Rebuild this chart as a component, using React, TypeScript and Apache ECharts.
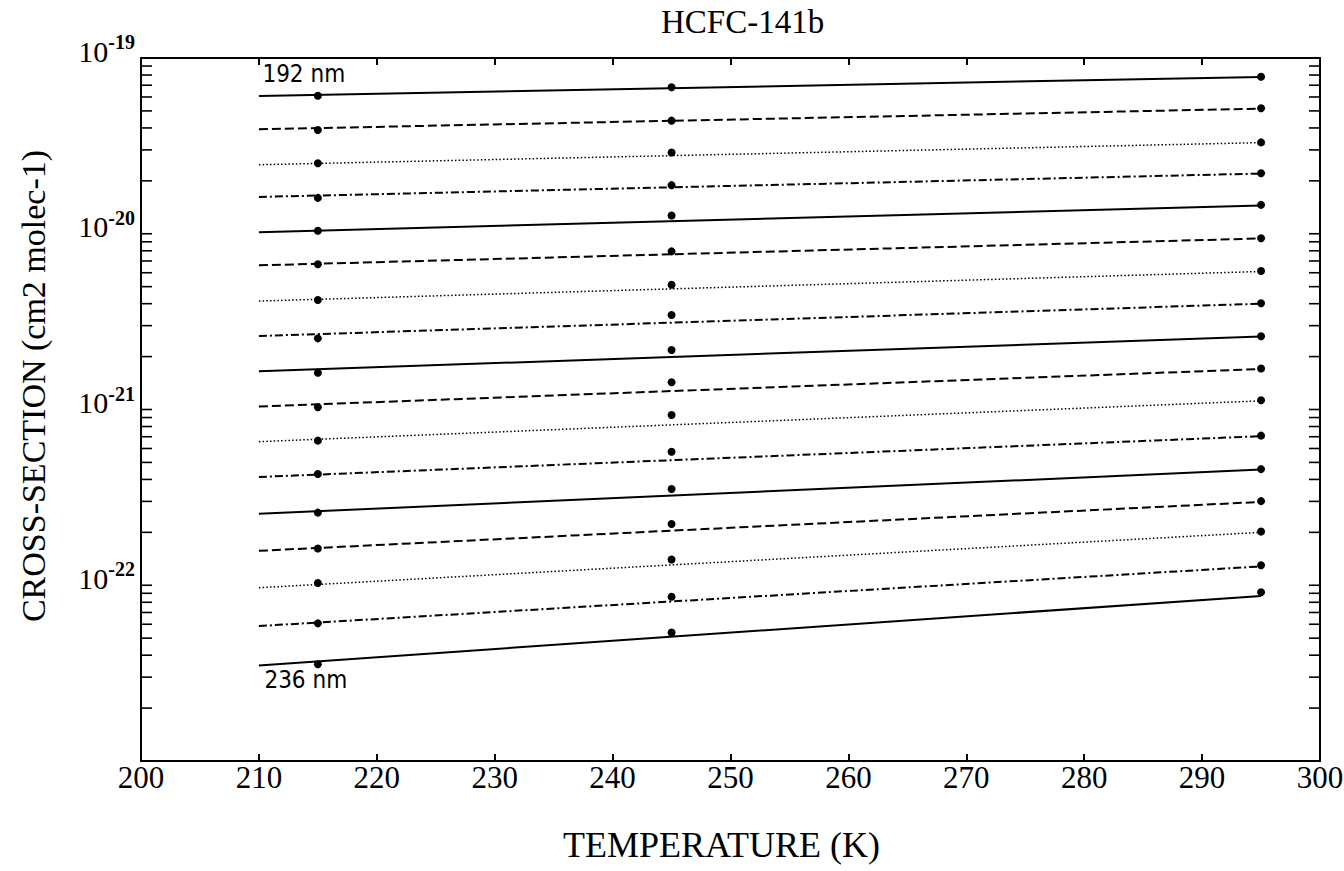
import React, { useEffect, useRef } from "react";
import * as echarts from "echarts";

// Temperatures (K)
const measuredTemps = [215, 245, 295];
const fitTemps = [210, 295];

// Labels shown at the ends of the family of lines (top: 192 nm, bottom: 236 nm)
const lineLabels = ["192 nm", "", "", "", "", "", "", "", "", "", "", "", "", "", "", "", "236 nm"];

// Measured cross-sections (cm2 molec-1) at 215 K, 245 K and 295 K
const at215 = [6.10e-20, 3.89e-20, 2.52e-20, 1.60e-20, 1.04e-20, 6.71e-21, 4.20e-21, 2.54e-21, 1.62e-21, 1.03e-21, 6.65e-22, 4.30e-22, 2.59e-22, 1.62e-22, 1.03e-22, 6.07e-23, 3.55e-23];
const at245 = [6.81e-20, 4.40e-20, 2.90e-20, 1.89e-20, 1.27e-20, 7.94e-21, 5.13e-21, 3.45e-21, 2.18e-21, 1.43e-21, 9.31e-22, 5.75e-22, 3.53e-22, 2.23e-22, 1.40e-22, 8.61e-23, 5.39e-23];
const at295 = [7.83e-20, 5.18e-20, 3.31e-20, 2.21e-20, 1.46e-20, 9.42e-21, 6.14e-21, 4.02e-21, 2.61e-21, 1.71e-21, 1.13e-21, 7.10e-22, 4.58e-22, 3.01e-22, 2.02e-22, 1.30e-22, 9.12e-23];

// Fitted line end values at 210 K and 295 K
const fitAt210 = [6.08e-20, 3.93e-20, 2.47e-20, 1.62e-20, 1.02e-20, 6.61e-21, 4.14e-21, 2.62e-21, 1.65e-21, 1.04e-21, 6.56e-22, 4.13e-22, 2.55e-22, 1.57e-22, 9.68e-23, 5.86e-23, 3.50e-23];
const fitAt295 = [7.80e-20, 5.15e-20, 3.30e-20, 2.20e-20, 1.45e-20, 9.40e-21, 6.10e-21, 4.00e-21, 2.60e-21, 1.70e-21, 1.12e-21, 7.05e-22, 4.55e-22, 2.98e-22, 2.00e-22, 1.28e-22, 8.70e-23];

// Axis tick values
const xTickValues = [200, 210, 220, 230, 240, 250, 260, 270, 280, 290, 300];
const yDecades = [-23, -22, -21, -20, -19];

const serif = "'Liberation Serif', 'Times New Roman', serif";
const sans = "'DejaVu Sans Condensed', 'DejaVu Sans', sans-serif";

const dashStyles: any[] = ["solid", [9, 4], [1.5, 2.2], [8, 3, 2, 3]];

function buildYTicks(): number[] {
  const ticks: number[] = [];
  for (let d = 0; d < yDecades.length - 1; d++) {
    for (let m = 1; m < 10; m++) ticks.push(m * Math.pow(10, yDecades[d]));
  }
  ticks.push(Math.pow(10, yDecades[yDecades.length - 1]));
  return ticks;
}

export default function App() {
  const ref = useRef<HTMLDivElement>(null);

  useEffect(() => {
    if (!ref.current) return;
    const chart = echarts.init(ref.current, undefined, { renderer: "svg" });

    const xMin = xTickValues[0];
    const xMax = xTickValues[xTickValues.length - 1];
    const yMin = Math.pow(10, yDecades[0]);
    const yMax = Math.pow(10, yDecades[yDecades.length - 1]);

    const series: any[] = [];

    at215.forEach((_, i) => {
      const style = dashStyles[i % 4];
      series.push({
        type: "line",
        name: "fit" + i,
        data: [
          [fitTemps[0], fitAt210[i]],
          [fitTemps[1], fitAt295[i]],
        ],
        symbol: "none",
        silent: true,
        lineStyle: {
          color: "#000",
          width: i % 4 === 2 ? 1.5 : 2,
          type: style,
          opacity: 1,
        },
        z: 2,
      });
      series.push({
        type: "scatter",
        name: "meas" + i,
        data: [
          [measuredTemps[0], at215[i]],
          [measuredTemps[1], at245[i]],
          [measuredTemps[2], at295[i]],
        ],
        symbol: "circle",
        symbolSize: 8,
        itemStyle: { color: "#000", opacity: 1 },
        silent: true,
        z: 3,
      });
    });

    // line labels
    const labelData: any[] = [];
    lineLabels.forEach((txt, i) => {
      if (!txt) return;
      const top = i === 0;
      labelData.push({
        value: [fitTemps[0], fitAt210[i]],
        label: {
          show: true,
          formatter: txt,
          position: top ? [4, -33] : [6, 3],
          fontFamily: sans,
          fontSize: 24,
          color: "#000",
          opacity: 1,
        },
      });
    });
    series.push({
      type: "scatter",
      name: "labels",
      data: labelData,
      symbolSize: 1,
      itemStyle: { color: "rgba(0,0,0,0)", opacity: 1 },
      silent: true,
      z: 4,
    });

    // y ticks (major + minor) drawn inward on both sides
    const yTicks = buildYTicks();
    series.push({
      type: "custom",
      name: "yticks",
      data: yTicks.map((v) => [xMin, v]),
      silent: true,
      clip: false,
      renderItem: (params: any, api: any) => {
        const v = api.value(1);
        const l = api.coord([xMin, v]);
        const r = api.coord([xMax, v]);
        const len = 11;
        return {
          type: "group",
          children: [
            { type: "line", shape: { x1: l[0], y1: l[1], x2: l[0] + len, y2: l[1] }, style: { stroke: "#000", lineWidth: 1.6 } },
            { type: "line", shape: { x1: r[0] - len, y1: r[1], x2: r[0], y2: r[1] }, style: { stroke: "#000", lineWidth: 1.6 } },
          ],
        };
      },
      z: 5,
    });

    const axisLine = { show: true, onZero: false, lineStyle: { color: "#000", width: 2 } };

    chart.setOption({
      animation: false,
      backgroundColor: "#fff",
      title: {
        text: "HCFC-141b",
        left: 656,
        top: 0,
        textStyle: { fontFamily: serif, fontSize: 33, fontWeight: "normal", color: "#000" },
      },
      graphic: [
        {
          type: "text",
          x: 33,
          y: 386,
          rotation: Math.PI / 2,
          style: {
            text: "CROSS-SECTION (cm2 molec-1)",
            fontFamily: serif,
            fontSize: 34,
            fill: "#000",
            textAlign: "center",
            textVerticalAlign: "middle",
          },
        },
      ],
      grid: { left: 141, right: 24, top: 58, bottom: 110, containLabel: false, outerBoundsMode: "none" },
      xAxis: [
        {
          type: "value",
          min: xMin,
          max: xMax,
          interval: 10,
          position: "bottom",
          name: "TEMPERATURE (K)",
          nameLocation: "middle",
          nameGap: 66,
          nameMoveOverlap: false,
          nameTextStyle: { fontFamily: serif, fontSize: 36, color: "#000", padding: [0, 18, 0, 0] },
          axisLine,
          axisTick: { show: true, inside: true, length: 7, lineStyle: { color: "#000", width: 2 } },
          axisLabel: { fontFamily: serif, fontSize: 31, color: "#000", margin: 1 },
          splitLine: { show: false },
        },
        {
          type: "value",
          min: xMin,
          max: xMax,
          interval: 10,
          position: "top",
          axisLine,
          axisTick: { show: true, inside: true, length: 7, lineStyle: { color: "#000", width: 2 } },
          axisLabel: { show: false },
          splitLine: { show: false },
        },
      ],
      yAxis: [
        {
          type: "log",
          logBase: 10,
          min: yMin,
          max: yMax,
          position: "left",
          axisLine,
          axisTick: { show: false },
          axisLabel: {
            margin: 6,
            formatter: (v: number) => {
              const e = Math.round(Math.log10(v));
              return "{b|10}{s|" + e + "}";
            },
            rich: {
              b: { fontFamily: serif, fontSize: 30, color: "#000", padding: [0, 0, 14, 0] },
              s: { fontFamily: serif, fontSize: 20, color: "#000", fontWeight: "bold", padding: [0, 0, 32, 0] },
            },
          },
          splitLine: { show: false },
        },
        {
          type: "log",
          logBase: 10,
          min: yMin,
          max: yMax,
          position: "right",
          axisLine,
          axisTick: { show: false },
          axisLabel: { show: false },
          splitLine: { show: false },
        },
      ],
      series,
    });

    return () => chart.dispose();
  }, []);

  return (
    <div
      ref={ref}
      style={{ position: "absolute", left: 0, top: 0, width: 1344, height: 871, background: "#fff" }}
    />
  );
}
